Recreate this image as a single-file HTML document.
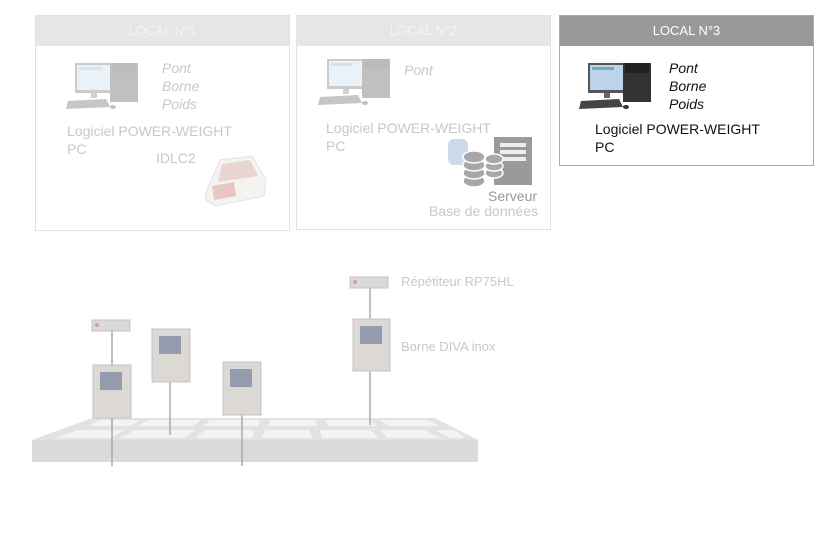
<!DOCTYPE html>
<html><head><meta charset="utf-8"><style>
body{margin:0;width:836px;height:535px;background:#fff;position:relative;overflow:hidden;font-family:"Liberation Sans",sans-serif}
.box{position:absolute;border:1px solid #e2e2e2;box-sizing:border-box;background:#fff}
.hd{position:absolute;left:0;right:0;top:0;height:30px;background:#e6e6e6;color:#f4f4f4;font-size:13px;text-align:center;line-height:30px}
.t{position:absolute;white-space:nowrap}
.f{color:#c8c8c8}
i{font-style:italic}
</style></head><body>

<svg width="0" height="0" style="position:absolute">
<defs>
<g id="pc">
<rect x="9" y="0" width="38" height="30" fill="#555"/>
<rect x="11" y="2" width="34" height="25" fill="#bcd4ea"/>
<rect x="13" y="4" width="22" height="3" fill="#7aa"/>
<rect x="25" y="30" width="6" height="5" fill="#666"/>
<rect x="44" y="-3" width="28" height="42" fill="#333"/>
<rect x="46" y="0" width="24" height="10" fill="#222"/>
<path d="M2 38 L40 36 L44 44 L0 46 Z" fill="#444"/>
<ellipse cx="47" cy="44" rx="3" ry="2" fill="#333"/>
</g>
</defs>
</svg>

<!-- LOCAL 1 -->
<div class="box" style="left:35px;top:15px;width:255px;height:216px">
<div class="hd">LOCAL N°1</div></div>
<svg style="position:absolute;left:66px;top:63px;opacity:.3" width="80" height="50"><use href="#pc"/></svg>
<div class="t f" style="left:162px;top:59px;font-size:14px;line-height:18px"><i>Pont<br>Borne<br>Poids</i></div>
<div class="t f" style="left:67px;top:122px;font-size:14px;line-height:18px">Logiciel POWER-WEIGHT<br>PC</div>
<div class="t f" style="left:156px;top:150px;font-size:14px">IDLC2</div>
<svg style="position:absolute;left:200px;top:152px" width="70" height="56">
<path d="M6 40 L20 8 L52 4 L66 28 L64 44 L16 54 L6 48 Z" fill="#f5f2f2" stroke="#e2e2e2"/>
<path d="M22 12 L50 8 L58 24 L18 30 Z" fill="#ead5d3"/>
<path d="M12 34 L34 30 L36 44 L14 48 Z" fill="#e8c6c1"/>
</svg>

<!-- LOCAL 2 -->
<div class="box" style="left:296px;top:15px;width:255px;height:215px">
<div class="hd">LOCAL N°2</div></div>
<svg style="position:absolute;left:318px;top:59px;opacity:.3" width="80" height="50"><use href="#pc"/></svg>
<div class="t f" style="left:404px;top:62px;font-size:14px"><i>Pont</i></div>
<div class="t f" style="left:326px;top:119px;font-size:14px;line-height:18px">Logiciel POWER-WEIGHT<br>PC</div>
<svg style="position:absolute;left:448px;top:135px" width="90" height="60">
<rect x="0" y="4" width="20" height="26" rx="6" fill="#cbd9ea"/>
<rect x="46" y="2" width="38" height="48" fill="#9a9a9a"/>
<rect x="52" y="8" width="26" height="4" fill="#eee"/><rect x="52" y="15" width="26" height="4" fill="#eee"/><rect x="52" y="22" width="26" height="4" fill="#eee"/>
<g fill="#a8a8a8" stroke="#fff" stroke-width="1.5">
<ellipse cx="26" cy="46" rx="11" ry="6"/><ellipse cx="26" cy="38" rx="11" ry="6"/><ellipse cx="26" cy="30" rx="11" ry="6"/><ellipse cx="26" cy="22" rx="11" ry="6"/>
<ellipse cx="46" cy="38" rx="9" ry="5"/><ellipse cx="46" cy="31" rx="9" ry="5"/><ellipse cx="46" cy="24" rx="9" ry="5"/>
</g>
</svg>
<div class="t" style="left:488px;top:188px;font-size:14px;color:#999">Serveur</div>
<div class="t f" style="left:429px;top:203px;font-size:14px">Base de données</div>

<!-- LOCAL 3 -->
<div class="box" style="left:559px;top:15px;width:255px;height:151px;border-color:#aaa">
<div class="hd" style="background:#999;color:#fff">LOCAL N°3</div></div>
<svg style="position:absolute;left:579px;top:63px" width="80" height="50"><use href="#pc"/></svg>
<div class="t" style="left:669px;top:59px;font-size:14px;line-height:18px;color:#111"><i>Pont<br>Borne<br>Poids</i></div>
<div class="t" style="left:595px;top:120px;font-size:14px;line-height:18px;color:#111">Logiciel POWER-WEIGHT<br>PC</div>

<!-- Platform -->
<svg style="position:absolute;left:0;top:260px" width="560" height="220">
<path d="M92 158 L435 158 L478 180 L478 202 L32 202 L32 180 Z" fill="#e2e2e2"/>
<path d="M32 180 L478 180 L478 202 L32 202 Z" fill="#dadada"/>
<g fill="#f3f3f3">
<path d="M100 160 L140 160 L130 166 L88 166Z"/><path d="M148 160 L200 160 L194 166 L138 166Z"/>
<path d="M210 160 L260 160 L258 166 L204 166Z"/><path d="M270 160 L315 160 L318 166 L268 166Z"/>
<path d="M325 160 L370 160 L378 166 L328 166Z"/><path d="M380 160 L428 160 L440 166 L388 166Z"/>
<path d="M78 170 L125 170 L110 178 L55 178Z"/><path d="M135 170 L195 170 L185 178 L120 178Z"/>
<path d="M205 170 L255 170 L252 178 L195 178Z"/><path d="M265 170 L310 170 L312 178 L262 178Z"/>
<path d="M320 170 L370 170 L378 178 L322 178Z"/><path d="M380 170 L425 170 L440 178 L388 178Z"/>
<path d="M435 170 L455 170 L465 178 L450 178Z"/>
</g>
<g stroke="#aaa" stroke-width="1.5">
<line x1="112" y1="70" x2="112" y2="206"/><line x1="170" y1="120" x2="170" y2="175"/>
<line x1="242" y1="150" x2="242" y2="206"/><line x1="370" y1="25" x2="370" y2="165"/>
</g>
<g fill="#dcd9d5" stroke="#c4c4c4">
<rect x="93" y="105" width="38" height="53"/><rect x="152" y="69" width="38" height="53"/>
<rect x="223" y="102" width="38" height="53"/><rect x="353" y="59" width="37" height="52"/>
</g>
<g fill="#959cae">
<rect x="100" y="112" width="22" height="18"/><rect x="159" y="76" width="22" height="18"/>
<rect x="230" y="109" width="22" height="18"/><rect x="360" y="66" width="22" height="18"/>
</g>
<rect x="92" y="60" width="38" height="11" fill="#dadada" stroke="#c4c4c4"/>
<rect x="350" y="17" width="38" height="11" fill="#dadada" stroke="#c4c4c4"/>
<circle cx="97" cy="65" r="2" fill="#d99"/><circle cx="355" cy="22" r="2" fill="#d99"/>
</svg>
<div class="t f" style="left:401px;top:274px;font-size:13px">Répétiteur RP75HL</div>
<div class="t f" style="left:401px;top:339px;font-size:13px">Borne DIVA inox</div>
</body></html>
